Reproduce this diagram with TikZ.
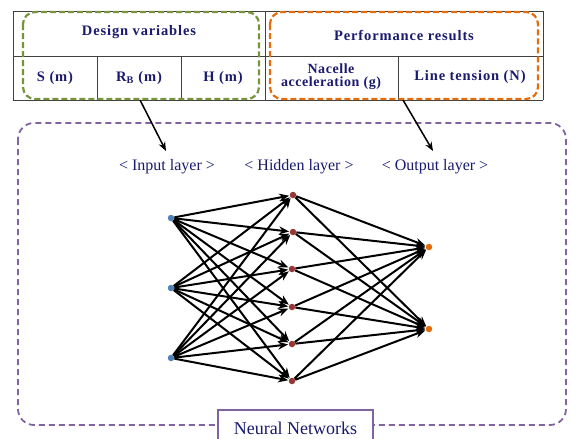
\documentclass[tikz,border=0pt]{standalone}
\usepackage{fontspec}
\setmainfont{Liberation Serif}
\usetikzlibrary{arrows.meta}
\definecolor{navytxt}{HTML}{1A1A6E}
\definecolor{grn}{HTML}{77933C}
\definecolor{org}{HTML}{E46C0A}
\definecolor{pur}{HTML}{8064A2}
\definecolor{inblue}{HTML}{4F81BD}
\definecolor{hidred}{HTML}{953735}
\definecolor{outorg}{HTML}{E36C09}
\tikzset{
  cell/.style={text=navytxt,font=\bfseries\fontsize{14.5}{14}\selectfont\addfontfeatures{LetterSpace=6},align=center,inner sep=0pt},
  layerlbl/.style={text=navytxt,font=\fontsize{16}{17}\selectfont,inner sep=1pt},
  neuron/.style={circle,inner sep=0pt,minimum size=6.5pt},
  conn/.style={line width=2pt,-{Stealth[length=10pt,width=8pt]},shorten >=0.5pt},
  tline/.style={line width=0.9pt,draw=black!75},
  gbox/.style={draw=grn,line width=2.2pt,dash pattern=on 6pt off 3pt,rounded corners=12pt},
  obox/.style={draw=org,line width=2.2pt,dash pattern=on 6pt off 3pt,rounded corners=12pt},
  pbox/.style={draw=pur,line width=1.8pt,dash pattern=on 6pt off 4pt,rounded corners=16pt}
}
\begin{document}
\begin{tikzpicture}[x=1pt,y=-1pt]
\useasboundingbox (0,0) rectangle (571,439);
% table lines
\draw[tline] (13,11) -- (543,11);
\draw[tline] (13,56) -- (543,56);
\draw[tline] (13,100) -- (543,100);
\draw[tline] (13,11) -- (13,100);
\draw[tline] (265,11) -- (265,100);
\draw[tline] (543,11) -- (543,100);
\draw[tline] (97,56) -- (97,100);
\draw[tline] (181,56) -- (181,100);
\draw[tline] (398,56) -- (398,100);
% cell texts
\node[cell] (dv) at (139,32) {Design variables};
\node[cell] (pr) at (404,35) {Performance results};
\node[cell] (s) at (55,78) {S (m)};
\node[cell] (rb) at (139,78) {R$_{\mathbf{B}}$ (m)};
\node[cell] (h) at (223,78) {H (m)};
\node[cell,font=\bfseries\fontsize{14}{13}\selectfont\addfontfeatures{LetterSpace=4}] (na) at (331,77) {Nacelle\\acceleration (g)};
\node[cell] (lt) at (470,77) {Line tension (N)};
% dashed boxes
\draw[gbox] (23,12) rectangle (259,99);
\draw[obox] (270,12) rectangle (538,99);
\draw[pbox] (18,123) rectangle (566,425);
% layer labels
\node[layerlbl] (il) at (167,167) {< Input layer >};
\node[layerlbl] (hl) at (299,167) {< Hidden layer >};
\node[layerlbl] (ol) at (435,167) {< Output layer >};
% arrows from table
\coordinate (a1) at (140,100);
\coordinate (a2) at (403,100);
\draw[line width=1.5pt,-{Stealth[length=9pt,width=7pt]}] (a1) -- (166,151);
\draw[line width=1.5pt,-{Stealth[length=9pt,width=7pt]}] (a2) -- (433,151);
% neurons
\node[neuron,fill=inblue] (i1) at (171,218) {};
\node[neuron,fill=inblue] (i2) at (171,288) {};
\node[neuron,fill=inblue] (i3) at (171,358) {};
\node[neuron,fill=hidred] (h1) at (293,195) {};
\node[neuron,fill=hidred] (h2) at (293,232) {};
\node[neuron,fill=hidred] (h3) at (292,269) {};
\node[neuron,fill=hidred] (h4) at (292,307) {};
\node[neuron,fill=hidred] (h5) at (292,344) {};
\node[neuron,fill=hidred] (h6) at (292,381) {};
\node[neuron,fill=outorg] (o1) at (429,247) {};
\node[neuron,fill=outorg] (o2) at (429,329) {};
\foreach \i in {1,2,3}{\foreach \j in {1,...,6}{\draw[conn] (i\i) -- (h\j);}}
\foreach \j in {1,...,6}{\foreach \k in {1,2}{\draw[conn] (h\j) -- (o\k);}}
% neural networks label
\node[draw=pur,line width=1.8pt,fill=white,minimum width=155pt,minimum height=40pt,anchor=north] (nn) at (295.5,409) {};
\node[text=navytxt,font=\fontsize{18}{19}\selectfont] (nnt) at (295.5,428) {Neural Networks};
\end{tikzpicture}
\end{document}
